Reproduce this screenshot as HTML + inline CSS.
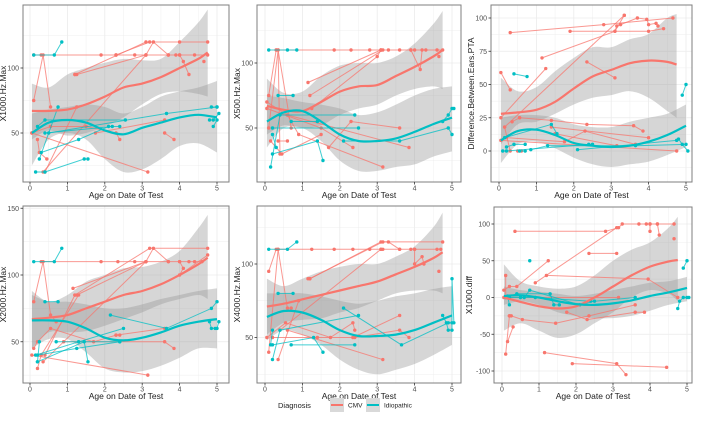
<!DOCTYPE html>
<html><head><meta charset="utf-8"><style>
html,body{margin:0;padding:0;background:#fff;}
svg{display:block;font-family:"Liberation Sans",sans-serif;}
</style></head><body>
<svg id="chart" width="702" height="422" viewBox="0 0 702 422"></svg>
<script>
// ---- data ----
const cmvAges = [0.05,0.5,1,1.5,2,2.5,3,3.5,4,4.5,4.75];
const idioAges = [0.05,0.5,1,1.5,2,2.5,3,3.5,4,4.5,5];

const p1Cmv = [[[0.1,110],[0.3,110],[1.9,110],[2.3,110]],[[2.3,110],[2.8,110],[3.1,110],[3.7,110],[4.0,110],[4.4,110],[4.75,110]],[[0.1,75],[0.35,110],[0.55,70]],[[1.2,95],[1.25,95],[3.1,110],[3.3,120],[3.7,110]],[[1.2,95],[3.1,120],[4.0,120],[4.75,120]],[[2.3,110],[3.2,120]],[[3.9,110],[4.0,110],[4.1,105],[4.25,95]],[[4.65,105]],[[0.05,50],[0.55,55],[1.5,55],[2.3,50],[2.4,45]],[[0.05,50],[3.15,20]],[[0.2,45],[0.25,35],[0.45,30]],[[0.35,20],[3.1,110]],[[0.4,20],[1.25,70]],[[1.75,50],[3.6,60]],[[3.6,50],[3.85,45]]];
const p1Idio = [[[0.1,110],[0.65,110],[0.85,120]],[[0.2,55],[0.4,60],[2.55,60]],[[0.15,20],[0.4,20],[1.45,30],[1.55,30]],[[0.25,30],[0.75,70]],[[0.3,35],[1.3,45],[2.1,55],[2.4,55]],[[0.4,50],[2.2,55]],[[0.5,50],[3.65,65],[5.0,70]],[[4.85,70],[5.0,70]],[[4.8,60],[4.9,60],[5.05,65]],[[4.9,55],[5.0,60]]];
const p1CmvFit = [67,67,68,72,78,85,88,93,100,107,112];
const p1CmvHi = [88,85,95,100,104,107,106,107,120,135,145];
const p1CmvLo = [45,52,48,50,55,62,72,80,82,80,78];
const p1IdioFit = [50,58,60,58,52,49,54,58,62,64,62];
const p1IdioHi = [65,68,70,72,70,65,70,78,82,85,90];
const p1IdioLo = [25,45,50,45,30,20,22,30,40,42,35];

const p2Cmv = [[[0.3,110],[1.85,110],[2.3,110],[2.8,110],[3.1,110],[3.3,110],[3.6,110],[3.9,110],[4.0,110],[4.3,110],[4.6,110],[4.75,110]],[[0.1,75],[0.3,110],[0.35,110],[0.7,50]],[[0.1,50],[0.35,110],[0.4,30]],[[1.15,85],[3.1,110]],[[1.2,75],[3.15,110]],[[1.25,65],[3.0,105],[3.1,110]],[[3.9,110],[4.15,95],[4.2,110]],[[4.65,105]],[[0.05,70],[0.6,60],[0.9,45],[3.15,20]],[[0.05,65],[1.5,50],[2.35,35]],[[0.35,40],[0.6,40]],[[1.7,35],[2.3,55],[3.6,50]],[[0.6,60],[3.85,35]],[[0.15,40],[0.45,30],[1.5,45]]];
const p2Idio = [[[0.1,110],[0.6,110],[0.85,110]],[[0.35,75],[0.75,75]],[[0.15,20],[0.4,60],[2.4,60]],[[0.2,30],[1.4,40],[1.55,25]],[[0.2,50],[2.5,50]],[[0.7,55],[1.4,55]],[[2.1,40],[3.6,40],[4.9,50],[5.0,45]],[[4.75,55],[4.9,60],[5.0,65],[5.05,65]],[[0.2,45],[0.3,35]]];
const p2CmvFit = [67,64,63,70,78,82,83,90,97,105,110];
const p2CmvHi = [88,77,78,90,98,100,100,105,115,130,140];
const p2CmvLo = [45,52,50,52,60,65,68,75,80,82,80];
const p2IdioFit = [55,62,63,55,45,40,40,42,47,53,58];
const p2IdioHi = [75,73,70,68,65,60,62,68,75,80,82];
const p2IdioLo = [35,50,50,40,25,17,17,20,22,28,32];

const p3Cmv = [[[0.3,89],[2.8,95],[4.65,100]],[[1.9,90],[4.0,90],[4.4,92]],[[3.1,90],[3.15,94],[3.25,95],[3.7,100],[3.95,99],[4.0,95],[4.2,96],[4.25,94]],[[1.15,70],[3.1,90],[3.35,102]],[[0.05,59],[0.3,46]],[[0.05,25],[1.25,62]],[[0.15,18],[3.35,102]],[[0.35,22],[0.55,25]],[[0.55,25],[1.4,23],[2.35,20],[3.6,19],[3.85,15]],[[0.15,18],[0.3,0]],[[2.35,67],[3.1,55]],[[0.05,8],[4.75,0]],[[0.2,10],[1.75,7],[2.3,15],[3.65,5]],[[0.5,0],[0.6,0]],[[1.4,18],[4.0,10]],[[1.5,13],[3.15,4]]];
const p3Idio = [[[0.4,58],[0.75,56]],[[4.9,42],[5.0,50]],[[0.1,0],[0.2,0],[2.4,5],[2.5,5]],[[0.2,3],[0.4,5],[0.7,5]],[[0.15,10],[1.4,20],[1.55,13]],[[0.85,1],[1.3,4],[3.65,4],[5.0,5]],[[2.1,1],[4.75,8],[4.8,9],[4.9,5],[5.05,0]],[[0.55,0],[0.7,0]]];
const p3CmvFit = [28,29,31,37,47,56,61,66,68,67,65];
const p3CmvHi = [55,45,48,60,70,78,78,84,88,100,103];
const p3CmvLo = [5,20,22,28,35,40,42,45,40,30,25];
const p3IdioFit = [8,15,16,12,6,4,3,4,7,12,19];
const p3IdioHi = [25,27,27,25,20,18,18,22,25,28,35];
const p3IdioLo = [-9,5,7,2,-5,-10,-12,-10,-8,-3,3];

const p4Cmv = [[[0.3,110],[1.9,110],[2.35,110],[2.8,110],[3.1,110],[3.7,110],[4.0,110],[4.25,110],[4.4,110],[4.6,110]],[[0.1,80],[0.35,110],[0.55,70],[0.7,65]],[[1.15,90],[3.1,110],[3.3,120],[3.7,110]],[[1.2,85],[3.2,120],[4.75,120]],[[1.25,85],[3.1,110]],[[4.0,110],[4.1,105],[4.0,100],[4.75,115]],[[0.05,40],[3.15,25]],[[0.1,45],[0.2,50],[0.55,60],[1.7,50],[2.3,55],[2.4,55]],[[0.2,30],[0.3,40],[1.3,85]],[[0.35,35],[3.1,110]],[[0.4,40],[1.2,85]],[[0.9,50],[3.6,50],[3.85,45]],[[2.3,55],[3.6,60]]];
const p4Idio = [[[0.1,110],[0.65,110],[0.85,120]],[[0.4,80],[0.75,80]],[[0.15,40],[1.3,50],[2.5,60]],[[0.2,35],[0.25,50]],[[0.2,35],[1.45,50],[1.55,35]],[[0.2,40],[1.25,45],[2.4,50]],[[0.7,50],[2.4,50]],[[2.15,70],[3.65,60],[4.85,75],[5.0,80]],[[4.8,65],[4.85,60],[4.95,60],[5.0,60],[5.05,65]]];
const p4CmvFit = [67,68,70,75,80,85,88,93,100,108,113];
const p4CmvHi = [88,80,85,95,100,105,106,110,118,135,145];
const p4CmvLo = [45,57,57,58,62,67,72,78,82,85,82];
const p4IdioFit = [66,66,65,60,53,51,53,57,62,65,67];
const p4IdioHi = [85,80,80,78,75,75,78,82,85,88,90];
const p4IdioLo = [45,52,52,42,30,27,28,32,38,45,45];

const p5Cmv = [[[0.1,95],[0.3,110],[1.25,110],[1.85,110],[2.35,110],[2.8,110],[3.1,110],[3.15,110],[3.6,110],[3.9,110],[4.0,110],[4.6,110],[4.7,110]],[[0.35,110],[0.6,70],[0.7,70]],[[0.1,40],[0.35,110]],[[1.15,90],[1.2,90],[3.1,115],[3.3,115],[3.6,110]],[[1.2,90],[3.15,115],[4.75,115]],[[4.0,110],[4.0,100],[4.2,105],[4.25,100]],[[4.65,95]],[[0.05,50],[0.55,60],[1.75,50],[2.35,60],[2.4,55]],[[0.2,50],[1.4,50],[2.4,50],[3.6,55],[3.85,50]],[[0.6,55],[3.15,35]],[[0.35,35],[0.9,75]],[[0.4,55],[3.1,110]],[[2.35,50],[3.6,65]]];
const p5Idio = [[[0.1,110],[0.6,110],[0.85,115]],[[0.35,80],[0.75,80]],[[0.2,35],[0.4,55],[2.5,65]],[[0.15,45],[0.2,55]],[[0.2,45],[1.3,50],[1.55,40]],[[0.7,45],[2.4,45]],[[2.1,70],[3.65,45],[4.9,60],[5.0,60]],[[4.75,65],[4.85,60],[4.9,55],[5.0,55],[5.0,90],[5.05,60]]];
const p5CmvFit = [71,73,76,79,82,85,88,93,98,104,108];
const p5CmvHi = [90,85,90,95,98,100,100,105,112,125,135];
const p5CmvLo = [52,60,62,63,67,70,75,80,82,82,80];
const p5IdioFit = [64,68,67,62,55,51,51,52,55,60,65];
const p5IdioHi = [80,80,80,78,75,73,75,78,80,83,85];
const p5IdioLo = [48,55,52,45,35,28,25,28,32,38,45];

const p6Cmv = [[[0.35,90],[2.8,90],[3.15,95],[3.25,100],[3.7,100],[3.9,100],[4.0,100],[4.2,100],[4.65,100]],[[4.0,100],[4.0,90]],[[4.2,100],[4.25,85]],[[4.65,80]],[[2.35,60],[3.1,60]],[[0.05,10],[0.2,15],[0.4,15],[1.25,50]],[[0.1,30],[0.1,0]],[[1.2,30],[3.95,25],[4.75,0]],[[0.05,0],[3.15,0]],[[0.9,20],[3.1,95]],[[0.2,-25],[0.25,-25],[0.55,-30],[1.45,-35],[2.35,-25],[3.6,-10]],[[1.75,-20],[2.3,-30],[3.6,-20],[3.85,-20]],[[0.1,-77],[0.2,-25]],[[0.15,-60],[0.3,-40]],[[1.15,-75],[3.1,-90],[3.35,-105]],[[1.9,-90],[4.45,-95]]];
const p6Idio = [[[0.75,50]],[[4.9,40],[5.0,50]],[[0.1,0],[0.4,5],[1.3,5],[1.4,-10],[1.55,-10]],[[0.15,2],[0.2,-10]],[[0.2,0],[0.6,0],[0.75,10],[2.1,-10],[2.5,-5],[3.6,0]],[[0.5,0],[0.9,0],[2.4,-5]],[[4.75,-15],[4.8,-5],[4.9,0],[5.0,0],[5.05,0]]];
const p6CmvFit = [0,-6,-12,-15,-12,0,15,30,42,49,51];
const p6CmvHi = [45,22,15,12,15,30,50,65,75,95,110];
const p6CmvLo = [-45,-35,-45,-55,-50,-35,-20,0,10,5,-5];
const p6IdioFit = [2,3,0,-5,-9,-10,-8,-4,2,7,13];
const p6IdioHi = [15,10,8,5,2,5,10,15,20,22,28];
const p6IdioLo = [-10,-5,-10,-20,-25,-28,-28,-25,-18,-10,-5];

const xTicks = [0,1,2,3,4,5];
const p1YTicks = [50,100];
const p2YTicks = [50,100];
const p3YTicks = [0,25,50,75,100];
const p4YTicks = [50,100,150];
const p5YTicks = [50,100];
const p6YTicks = [-100,-50,0,50,100];

// ---- layout ----
const CMV = '#F8766D', IDI = '#00BFC4';
const panels = [
 {id:'x1000-max',title:'X1000.Hz.Max',l:23,t:5,r:229,b:182,x0:30,xs:37.4,yr:100,yp:68,ys:1.3,yt:p1YTicks,minor:25,cmv:p1Cmv,idi:p1Idio,cf:p1CmvFit,ch:p1CmvHi,cl:p1CmvLo,if_:p1IdioFit,ih:p1IdioHi,il:p1IdioLo},
 {id:'x500-max',title:'X500.Hz.Max',l:257,t:5,r:461,b:182,x0:265,xs:37.4,yr:100,yp:63,ys:1.3,yt:p2YTicks,minor:25,cmv:p2Cmv,idi:p2Idio,cf:p2CmvFit,ch:p2CmvHi,cl:p2CmvLo,if_:p2IdioFit,ih:p2IdioHi,il:p2IdioLo},
 {id:'difference-pta',title:'Difference.Between.Ears.PTA',l:491,t:5,r:692,b:182,x0:499,xs:37.4,yr:100,yp:18,ys:1.33,yt:p3YTicks,minor:12.5,cmv:p3Cmv,idi:p3Idio,cf:p3CmvFit,ch:p3CmvHi,cl:p3CmvLo,if_:p3IdioFit,ih:p3IdioHi,il:p3IdioLo},
 {id:'x2000-max',title:'X2000.Hz.Max',l:23,t:206,r:229,b:383,x0:30,xs:37.4,yr:100,yp:275,ys:1.335,yt:p4YTicks,minor:25,cmv:p4Cmv,idi:p4Idio,cf:p4CmvFit,ch:p4CmvHi,cl:p4CmvLo,if_:p4IdioFit,ih:p4IdioHi,il:p4IdioLo},
 {id:'x4000-max',title:'X4000.Hz.Max',l:257,t:206,r:461,b:383,x0:265,xs:37.4,yr:100,yp:264,ys:1.47,yt:p5YTicks,minor:25,cmv:p5Cmv,idi:p5Idio,cf:p5CmvFit,ch:p5CmvHi,cl:p5CmvLo,if_:p5IdioFit,ih:p5IdioHi,il:p5IdioLo},
 {id:'x1000-diff',title:'X1000.diff',l:494,t:207,r:692,b:383,x0:502,xs:37,yr:100,yp:224,ys:0.735,yt:p6YTicks,minor:25,cmv:p6Cmv,idi:p6Idio,cf:p6CmvFit,ch:p6CmvHi,cl:p6CmvLo,if_:p6IdioFit,ih:p6IdioHi,il:p6IdioLo}
];
const NS='http://www.w3.org/2000/svg';
const svg=document.getElementById('chart');
function mk(tag,attrs,parent){const e=document.createElementNS(NS,tag);for(const k in attrs)e.setAttribute(k,attrs[k]);(parent||svg).appendChild(e);return e;}
function smoothPath(pts){
  let d='M'+pts[0][0].toFixed(1)+','+pts[0][1].toFixed(1);
  for(let i=0;i<pts.length-1;i++){
    const p0=pts[i-1]||pts[i],p1=pts[i],p2=pts[i+1],p3=pts[i+2]||p2;
    const c1=[p1[0]+(p2[0]-p0[0])/6,p1[1]+(p2[1]-p0[1])/6];
    const c2=[p2[0]-(p3[0]-p1[0])/6,p2[1]-(p3[1]-p1[1])/6];
    d+=' C'+c1[0].toFixed(1)+','+c1[1].toFixed(1)+' '+c2[0].toFixed(1)+','+c2[1].toFixed(1)+' '+p2[0].toFixed(1)+','+p2[1].toFixed(1);
  }
  return d;
}
panels.forEach((P,pi)=>{
  const X=v=>P.x0+v*P.xs, Y=v=>P.yp+(P.yr-v)*P.ys;
  const g=mk('g',{});
  
  
  const cp=mk('clipPath',{id:'clip'+pi},g);
  mk('rect',{x:P.l,y:P.t,width:P.r-P.l,height:P.b-P.t},cp);
  // grid
  const vmin=P.yr-(P.b-P.yp)/P.ys, vmax=P.yr+(P.yp-P.t)/P.ys;
  for(let v=Math.ceil(vmin/P.minor)*P.minor;v<=vmax;v+=P.minor){
    const major=P.yt.includes(v);
    mk('line',{x1:P.l,x2:P.r,y1:Y(v),y2:Y(v),stroke:'#ebebeb','stroke-width':major?0.8:0.4},g);
  }
  for(let v=0;v<=5;v+=0.5){
    mk('line',{x1:X(v),x2:X(v),y1:P.t,y2:P.b,stroke:'#ebebeb','stroke-width':(v%1===0)?0.8:0.4},g);
  }
  const mg=mk('g',{'clip-path':'url(#clip'+pi+')'},g);
  // ribbons
  [[cmvAges,P.ch,P.cl,'cmv'],[idioAges,P.ih,P.il,'idiopathic']].forEach(([ages,hi,lo,nm])=>{
    const top=ages.map((a,i)=>[X(a),Y(hi[i])]), bot=ages.map((a,i)=>[X(a),Y(lo[i])]).reverse();
    const d=smoothPath(top)+' L'+smoothPath(bot).slice(1)+' Z';
    const r=mk('path',{d:d,fill:'#999999','fill-opacity':0.4,stroke:'none'},mg);
    
    
  });
  // subject lines
  [[P.cmv,CMV,'cmv'],[P.idi,IDI,'idiopathic']].forEach(([lines,col,nm])=>{
    lines.forEach(ln=>{
      if(ln.length>1){
        const pl=mk('polyline',{points:ln.map(p=>X(p[0]).toFixed(1)+','+Y(p[1]).toFixed(1)).join(' '),fill:'none',stroke:col,'stroke-width':1,'stroke-opacity':0.75},mg);
        
        
      }
      ln.forEach(p=>{
        const c=mk('circle',{cx:X(p[0]),cy:Y(p[1]),r:1.7,fill:col},mg);
        
        
      });
    });
  });
  // fits
  [[cmvAges,P.cf,CMV,'cmv'],[idioAges,P.if_,IDI,'idiopathic']].forEach(([ages,fit,col,nm])=>{
    const f=mk('path',{d:smoothPath(ages.map((a,i)=>[X(a),Y(fit[i])])),fill:'none',stroke:col,'stroke-width':2.2},mg);
    
    
  });
  // border
  mk('rect',{x:P.l,y:P.t,width:P.r-P.l,height:P.b-P.t,fill:'none',stroke:'#7f7f7f','stroke-width':1},g);
  // ticks
  P.yt.forEach(v=>{
    mk('line',{x1:P.l-2.5,x2:P.l,y1:Y(v),y2:Y(v),stroke:'#333','stroke-width':0.8},g);
    const t=mk('text',{x:P.l-4,y:Y(v)+2.5,'font-size':7,fill:'#4d4d4d','text-anchor':'end'},g);
    t.textContent=v;
    
    
  });
  xTicks.forEach(v=>{
    mk('line',{x1:X(v),x2:X(v),y1:P.b,y2:P.b+2.5,stroke:'#333','stroke-width':0.8},g);
    const t=mk('text',{x:X(v),y:P.b+8.5,'font-size':7,fill:'#4d4d4d','text-anchor':'middle'},g);
    t.textContent=v;
    
    
  });
  const xt=mk('text',{x:(P.l+P.r)/2,y:P.b+16,'font-size':8.5,fill:'#222','text-anchor':'middle'},g);
  xt.textContent='Age on Date of Test';
  
  
  const cx=P.l-(P.yt.some(v=>Math.abs(v)>=100&&v<0)?22:(P.yt.includes(100)||P.yt.includes(150)?17:13));
  const yt=mk('text',{x:cx,y:(P.t+P.b)/2,'font-size':8.5,fill:'#222','text-anchor':'middle',transform:'rotate(-90 '+cx+' '+((P.t+P.b)/2)+')'},g);
  yt.textContent=P.title;
  
  
});
// legend
const lg=mk('g',{});


const lt=mk('text',{x:278,y:408,'font-size':7.5,fill:'#222'},lg);lt.textContent='Diagnosis';
[[330,CMV,'CMV',348],[366,IDI,'Idiopathic',384]].forEach(([x,col,lab,tx])=>{
  const e=mk('g',{},lg);
  
  
  mk('rect',{x:x,y:398,width:14,height:14,fill:'#d9d9d9'},e);
  mk('line',{x1:x+1,x2:x+13,y1:405,y2:405,stroke:col,'stroke-width':2},e);
  const t=mk('text',{x:tx,y:407.5,'font-size':6.5,fill:'#222'},e);t.textContent=lab;
});
</script>
</body></html>
